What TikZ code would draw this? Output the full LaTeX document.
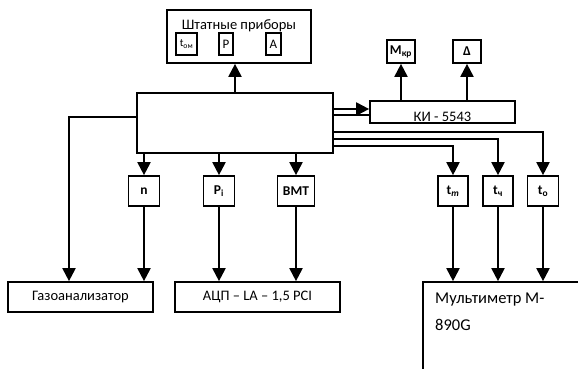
\documentclass[tikz,border=0pt]{standalone}
\usepackage{fontspec}
\setmainfont{Carlito}
\usetikzlibrary{arrows.meta}
\tikzset{
  bx/.style={draw, line width=1.7pt, inner sep=0pt, anchor=center},
  conn/.style={line width=2pt},
  arr/.style={conn, -{Triangle[width=13pt,length=13pt]}},
  lbl/.style={font=\fontsize{14.5}{16}\selectfont},
  sml/.style={font=\fontsize{13.5}{15}\selectfont\bfseries},
}
\begin{document}
\begin{tikzpicture}[x=1pt,y=-1pt]
\useasboundingbox (0,0) rectangle (578,368);
\clip (0,0) rectangle (578,368);
% boxes
\node[bx, minimum width=196, minimum height=60] (main) at (235,123) {};
\node[bx, minimum width=144, minimum height=53] (sht) at (239,36.5) {};
\node[lbl, anchor=base] (shttxt) at (239,29) {Штатные приборы};
\node[bx, minimum width=21, minimum height=22, font=\fontsize{11}{12}\selectfont] (tom) at (186.5,44) {t\textsubscript{ом}};
\node[bx, minimum width=14, minimum height=22, font=\fontsize{13}{14}\selectfont] (pbox) at (226,44) {P};
\node[bx, minimum width=15, minimum height=22, font=\fontsize{13}{14}\selectfont] (abox) at (273.5,44) {A};
\node[bx, minimum width=145, minimum height=22] (ki) at (442.5,112) {};
\node[lbl, anchor=base] (kitxt) at (442.5,121) {КИ - 5543};
\node[bx, sml, minimum width=28, minimum height=23] (mkr) at (401,51.5) {M\textsubscript{кр}};
\node[bx, sml, minimum width=28, minimum height=23] (delta) at (467,51.5) {Δ};
\node[bx, sml, minimum width=31, minimum height=30] (n) at (144,191) {n};
\node[bx, sml, minimum width=31, minimum height=30] (pi) at (219,191) {P\textsubscript{i}};
\node[bx, sml, minimum width=37, minimum height=30] (bmt) at (296,191) {ВМТ};
\node[bx, sml, minimum width=30, minimum height=30] (tm) at (453,191) {t\textsubscript{\itshape т}};
\node[bx, sml, minimum width=30, minimum height=30] (tch) at (498,191) {t\textsubscript{ч}};
\node[bx, sml, minimum width=31, minimum height=30] (to) at (543,191) {t\textsubscript{о}};
\node[bx, lbl, minimum width=145, minimum height=30] (gaz) at (80.5,297) {Газоанализатор};
\node[bx, lbl, minimum width=165, minimum height=30] (adc) at (257.5,297) {АЦП – LA – 1,5 PCI};
\node[bx, minimum width=190, minimum height=130] (mult) at (518,347) {};
\node[anchor=base west, inner sep=0pt, align=left, font=\fontsize{16.5}{26.7}\selectfont] (multtxt) at (435,330) {Мультиметр М-\\890G};
% helper coordinates
\coordinate (y109) at (0,109);
\coordinate (y115) at (0,115);
\coordinate (y117) at (0,117);
\coordinate (y132) at (0,132);
\coordinate (y139) at (0,139);
\coordinate (y146) at (0,146);
\coordinate (gx) at (69,0);
% connectors
\draw[arr] (main.north) -- (main.north |- sht.south);
\draw[arr] (main.east |- y109) -- (ki.west |- y109);
\draw[conn] (main.east |- y115) -- (ki.west |- y115);
\draw[arr] (main.east |- y132) -| (to.north);
\draw[arr] (main.east |- y139) -| (tch.north);
\draw[arr] (main.east |- y146) -| (tm.north);
\draw[arr] (mkr.south |- ki.north) -- (mkr.south);
\draw[arr] (delta.south |- ki.north) -- (delta.south);
\draw[arr] (n.north |- main.south) -- (n.north);
\draw[arr] (pi.north |- main.south) -- (pi.north);
\draw[arr] (bmt.north |- main.south) -- (bmt.north);
\draw[arr] (main.west |- y117) -| (gx |- gaz.north);
\draw[arr] (n.south) -- (n.south |- gaz.north);
\draw[arr] (pi.south) -- (pi.south |- adc.north);
\draw[arr] (bmt.south) -- (bmt.south |- adc.north);
\draw[arr] (tm.south) -- (tm.south |- mult.north);
\draw[arr] (tch.south) -- (tch.south |- mult.north);
\draw[arr] (to.south) -- (to.south |- mult.north);
\end{tikzpicture}
\end{document}
